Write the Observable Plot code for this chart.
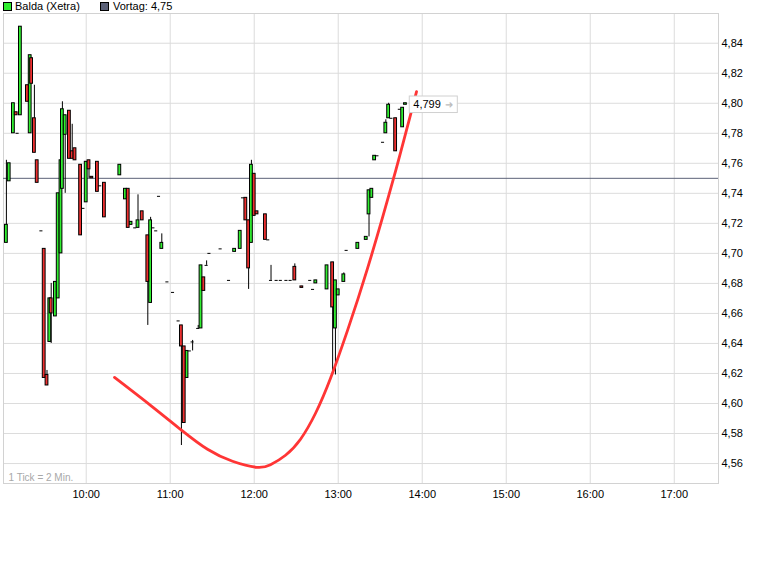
<!DOCTYPE html>
<html><head><meta charset="utf-8">
<script src="https://cdn.jsdelivr.net/npm/d3@7"></script>
<script src="https://cdn.jsdelivr.net/npm/@observablehq/plot@0.6"></script>
<style>
body{margin:0;background:#fff;font-family:"Liberation Sans",Arial,sans-serif;}
#legend{position:relative;height:12px;font-size:11px;color:#000;}
.sw{position:absolute;top:2px;width:7px;height:7px;border:1px solid #000;}
.lt{position:absolute;top:0;line-height:13px;white-space:nowrap;}
#chart svg{display:block;}
</style></head><body>
<div id="legend">
  <div class="sw" style="left:3px;background:#30ee30"></div><div class="lt" style="left:15px">Balda (Xetra)</div>
  <div class="sw" style="left:100px;background:#5b6178"></div><div class="lt" style="left:113px">Vortag: 4,75</div>
</div>
<div id="chart"></div>
<script>
// 2-minute candles (centre time), Xetra session
const times = ["09:03","09:05","09:08","09:10","09:11","09:13","09:18","09:20","09:21","09:23","09:25","09:28","09:30","09:32","09:34","09:35","09:38","09:40","09:42","09:43","09:45","09:48","09:50","09:52","09:56","09:58","10:00","10:02","10:04","10:08","10:10","10:13","10:24","10:28","10:30","10:32","10:35","10:37","10:40","10:44","10:46","10:48","10:50","10:52","10:54","10:58","11:02","11:06","11:08","11:10","11:12","11:14","11:16","11:20","11:22","11:24","11:26","11:28","11:36","11:42","11:46","11:50","11:52","11:54","11:56","11:58","12:00","12:02","12:08","12:10","12:12","12:16","12:19","12:23","12:26","12:29","12:34","12:40","12:42","12:44","12:52","12:56","12:58","13:00","13:04","13:06","13:14","13:20","13:22","13:24","13:26","13:28","13:32","13:34","13:36","13:38","13:41","13:44","13:46","13:48"];
const open  = [4.707,4.748,4.780,4.794,4.780,4.792,4.812,4.780,4.830,4.790,4.762,4.715,4.703,4.619,4.641,4.670,4.658,4.670,4.700,4.743,4.779,4.795,4.768,4.770,4.759,4.730,4.734,4.762,4.751,4.761,4.745,4.747,4.752,4.736,4.743,4.719,4.717,4.717,4.728,4.712,4.667,4.717,4.715,4.738,4.703,4.681,4.674,4.655,4.652,4.638,4.617,4.635,4.641,4.650,4.650,4.684,4.692,4.700,4.703,4.682,4.701,4.703,4.737,4.737,4.722,4.707,4.753,4.728,4.726,4.709,4.682,4.682,4.682,4.682,4.682,4.691,4.678,4.682,4.676,4.680,4.676,4.694,4.650,4.672,4.681,4.702,4.703,4.709,4.726,4.737,4.762,4.765,4.774,4.780,4.790,4.790,4.790,4.796,4.784,4.799];
const high  = [4.762,4.760,4.800,4.794,4.780,4.851,4.812,4.832,4.830,4.812,4.762,4.715,4.703,4.622,4.670,4.680,4.681,4.740,4.762,4.801,4.792,4.795,4.786,4.770,4.759,4.730,4.761,4.762,4.751,4.761,4.745,4.747,4.759,4.743,4.743,4.721,4.717,4.739,4.728,4.712,4.724,4.717,4.715,4.738,4.713,4.681,4.674,4.655,4.652,4.638,4.635,4.635,4.642,4.652,4.692,4.684,4.695,4.700,4.703,4.682,4.703,4.715,4.737,4.737,4.722,4.762,4.753,4.728,4.726,4.709,4.692,4.682,4.682,4.682,4.682,4.693,4.678,4.682,4.676,4.682,4.692,4.694,4.682,4.676,4.687,4.702,4.707,4.711,4.742,4.743,4.765,4.765,4.774,4.789,4.800,4.790,4.790,4.796,4.797,4.800];
const low   = [4.707,4.748,4.780,4.792,4.780,4.792,4.801,4.780,4.813,4.767,4.747,4.715,4.617,4.612,4.641,4.640,4.658,4.670,4.700,4.743,4.740,4.763,4.763,4.762,4.712,4.730,4.734,4.750,4.750,4.741,4.745,4.724,4.752,4.736,4.717,4.719,4.717,4.717,4.722,4.652,4.667,4.717,4.715,4.738,4.703,4.681,4.674,4.655,4.572,4.587,4.617,4.635,4.635,4.650,4.650,4.675,4.692,4.700,4.703,4.682,4.701,4.703,4.737,4.722,4.676,4.707,4.725,4.726,4.709,4.709,4.682,4.682,4.682,4.682,4.682,4.682,4.677,4.682,4.676,4.680,4.676,4.619,4.619,4.672,4.681,4.702,4.703,4.709,4.711,4.737,4.762,4.765,4.774,4.780,4.790,4.790,4.768,4.796,4.784,4.799];
const close = [4.719,4.760,4.800,4.792,4.780,4.851,4.801,4.832,4.813,4.767,4.747,4.715,4.617,4.612,4.670,4.660,4.681,4.740,4.762,4.796,4.792,4.763,4.763,4.762,4.712,4.730,4.761,4.756,4.750,4.741,4.745,4.724,4.759,4.743,4.717,4.721,4.717,4.722,4.722,4.681,4.722,4.717,4.715,4.738,4.707,4.681,4.674,4.655,4.638,4.587,4.635,4.635,4.641,4.650,4.692,4.675,4.692,4.700,4.703,4.682,4.703,4.715,4.737,4.722,4.690,4.759,4.725,4.726,4.709,4.709,4.682,4.682,4.682,4.682,4.682,4.682,4.677,4.682,4.676,4.682,4.692,4.664,4.682,4.676,4.686,4.702,4.707,4.711,4.742,4.743,4.765,4.765,4.774,4.787,4.799,4.790,4.768,4.796,4.797,4.800];

const vortag = 4.75;
const lastPrice = 4.799;
const lastLabel = "4,799";

// red hand-drawn trend curve
const curveTimes  = ["10:20:13","10:45:56","11:07:21","11:26:39","11:44:30","12:01:39","12:11:39","12:22:21","12:33:04","12:43:47","12:54:30","13:06:39","13:20:56","13:39:30","13:55:56"];
const curvePrices = [4.6174,4.5988,4.5828,4.5695,4.5615,4.5575,4.5592,4.5655,4.5762,4.5935,4.6168,4.6487,4.6900,4.7499,4.8078];

const yTicks = [4.56,4.58,4.60,4.62,4.64,4.66,4.68,4.70,4.72,4.74,4.76,4.78,4.80,4.82,4.84];
const xTickLabels = ["10:00","11:00","12:00","13:00","14:00","15:00","16:00","17:00"];

const toMin = s => { const [h, m, sec = 0] = s.split(":").map(Number); return (h - 9) * 60 + m + sec / 60; };
const candles = times.map((s, i) => ({t: toMin(s), o: open[i], h: high[i], l: low[i], c: close[i]}));
const ups = candles.filter(d => d.c > d.o);
const downs = candles.filter(d => d.c < d.o);
const dojis = candles.filter(d => d.c === d.o);
const wicks = candles.filter(d => d.h > d.l);
const curve = curveTimes.map((s, i) => ({t: toMin(s), p: curvePrices[i]}));
const xTicks = xTickLabels.map(toMin);
const lastT = candles[candles.length - 1].t;

const green = "#30ee30", red = "#ee3030";
const hw = 1.0;

const chart = Plot.plot({
  width: 775, height: 552,
  marginTop: 1, marginLeft: 3, marginRight: 57, marginBottom: 81,
  style: {fontFamily: "Liberation Sans, Arial, sans-serif", fontSize: "11px", color: "#000", background: "#fff"},
  x: {type: "linear", domain: [0.93, 511.6], label: null},
  y: {domain: [4.5467, 4.8598], label: null},
  marks: [
    Plot.gridY(yTicks, {stroke: "#dcdcdc", strokeOpacity: 1}),
    Plot.gridX(xTicks, {stroke: "#dcdcdc", strokeOpacity: 1}),
    Plot.frame({stroke: "#d2d2d2"}),
    Plot.axisY(yTicks, {anchor: "right", tickSize: 0, tickPadding: 3, textAnchor: "start", label: null,
      tickFormat: d => d.toFixed(2).replace(".", ",")}),
    Plot.axisX(xTicks, {anchor: "bottom", tickSize: 0, tickPadding: 7, letterSpacing: "-0.5px", label: null,
      tickFormat: (d, i) => xTickLabels[i]}),
    Plot.text(["1 Tick = 2 Min."], {frameAnchor: "bottom-left", dx: 5, dy: -3, fill: "#a8a8a8", fontSize: 10}),
    Plot.ruleY([vortag], {stroke: "#5b6178", strokeWidth: 1}),
    Plot.ruleX(wicks, {x: "t", y1: "l", y2: "h", stroke: "#000", strokeWidth: 1}),
    Plot.rect(ups, {x1: d => d.t - hw, x2: d => d.t + hw, y1: "o", y2: "c", fill: green, stroke: "#000", strokeWidth: 1}),
    Plot.rect(downs, {x1: d => d.t - hw, x2: d => d.t + hw, y1: "o", y2: "c", fill: red, stroke: "#000", strokeWidth: 1}),
    Plot.ruleY(dojis, {y: "c", x1: d => d.t - 1.1, x2: d => d.t + 1.1, stroke: "#000", strokeWidth: 1}),
    Plot.line(curve, {x: "t", y: "p", stroke: "#ff3535", strokeWidth: 2.8, curve: "natural"}),
    Plot.rect([lastPrice], {x1: lastT + 3.1, x2: lastT + 37.4, y1: d => d - 0.0055, y2: d => d + 0.0055, fill: "#fff", stroke: "#d0d0d0"}),
    Plot.text([lastPrice], {x: lastT + 5.6, y: d => d, text: () => lastLabel, textAnchor: "start", fill: "#000", fontSize: 11}),
    Plot.text([lastPrice], {x: lastT + 30.8, y: d => d, text: () => "➜", fill: "#bdbdbd", fontSize: 10})
  ]
});
document.getElementById("chart").appendChild(chart);
</script>
</body></html>
